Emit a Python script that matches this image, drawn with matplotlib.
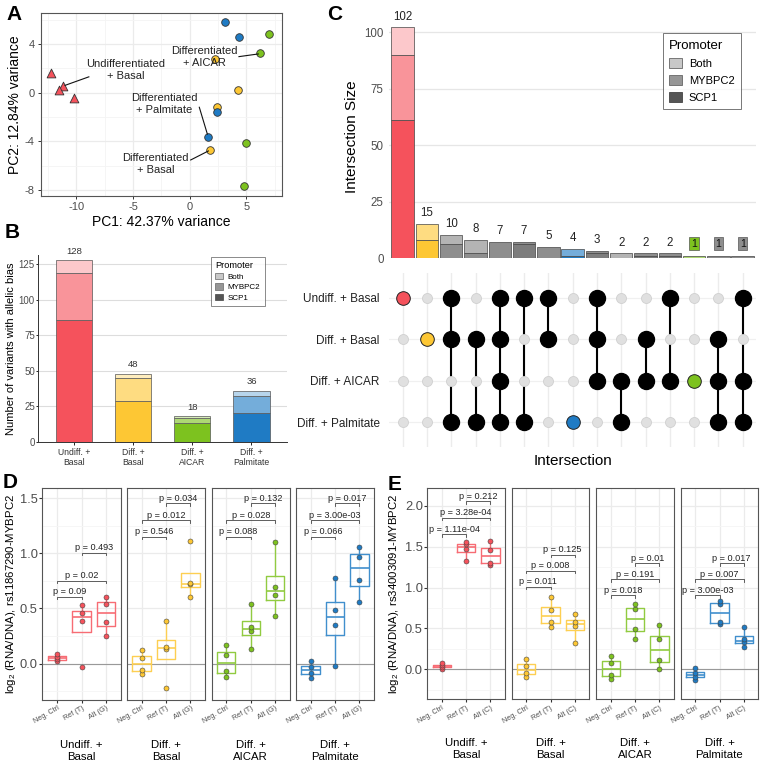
import matplotlib
matplotlib.use('Agg')
import matplotlib.pyplot as plt
import numpy as np
from matplotlib.patches import Patch
from matplotlib.ticker import MultipleLocator

plt.rcParams['font.family'] = ['Liberation Sans', 'DejaVu Sans']
plt.rcParams['mathtext.fontset'] = 'custom'
plt.rcParams['mathtext.rm'] = 'Liberation Sans'
plt.rcParams['mathtext.it'] = 'Liberation Sans:italic'
plt.rcParams['axes.unicode_minus'] = False

# ---------------- DATA ----------------
# Panel A (PCA)
pc1_undiff = [-12.26, -11.2, -11.5, -10.2]
pc2_undiff = [1.59, 0.55, 0.22, -0.41]
pc1_basal = [2.26, 4.29, 2.41, 1.79]
pc2_basal = [2.77, 0.19, -1.15, -4.74]
pc1_aicar = [7.03, 6.2, 4.94, 4.79]
pc2_aicar = [4.85, 3.23, -4.16, -7.67]
pc1_palm = [3.12, 4.32, 2.44, 1.62]
pc2_palm = [5.81, 4.58, -1.59, -3.62]
pca_labels = ['Undifferentiated\n+ Basal', 'Differentiated\n+ AICAR',
              'Differentiated\n+ Palmitate', 'Differentiated\n+ Basal']

# Panel B
conditions = ['Undiff. +\nBasal', 'Diff. +\nBasal', 'Diff. +\nAICAR', 'Diff. +\nPalmitate']
b_scp1 = [86, 29, 13, 20]
b_mybpc2 = [33, 16, 4, 12]
b_both = [9, 3, 1, 4]

# Panel C (UpSet)
sets = ['Undiff. + Basal', 'Diff. + Basal', 'Diff. + AICAR', 'Diff. + Palmitate']
inter_members = [[0], [1], [0, 1, 3], [1, 3], [0, 1, 2, 3], [0, 3], [0, 1], [3],
                 [0, 1, 2], [2, 3], [1, 2], [0, 2], [2], [1, 2, 3], [0, 2, 3]]
c_scp1 = [61, 8, 0, 0, 0, 6, 0, 1, 2, 0, 1, 1, 0, 0, 0]
c_mybpc2 = [29, 7, 6, 2, 7, 1, 5, 3, 1, 0, 1, 1, 1, 1, 1]
c_both = [12, 0, 4, 6, 0, 0, 0, 0, 0, 2, 0, 0, 0, 0, 0]

# Panel D
d_groups = ['Neg. Ctrl', 'Ref (T)', 'Alt (G)']
d_undiff = [[0.02, 0.04, 0.06, 0.09], [-0.03, 0.39, 0.46, 0.53], [0.25, 0.375, 0.54, 0.60]]
d_basal = [[-0.09, -0.06, 0.05, 0.12], [-0.22, 0.13, 0.15, 0.39], [0.605, 0.72, 0.73, 1.11]]
d_aicar = [[-0.12, -0.07, 0.08, 0.17], [0.136, 0.296, 0.336, 0.538], [0.435, 0.62, 0.692, 1.107]]
d_palm = [[-0.127, -0.088, -0.03, 0.021], [-0.018, 0.348, 0.49, 0.774], [0.562, 0.756, 0.97, 1.058]]
d_pvals = [['0.09', '0.02', '0.493'], ['0.546', '0.012', '0.034'],
           ['0.088', '0.028', '0.132'], ['0.066', '3.00e-03', '0.017']]
d_bracket_y = [[0.608, 0.753, 1.007], [1.152, 1.303, 1.455],
               [1.152, 1.303, 1.455], [1.152, 1.303, 1.455]]

# Panel E
e_groups = ['Neg. Ctrl', 'Ref (T)', 'Alt (C)']
e_undiff = [[0.01, 0.03, 0.05, 0.08], [1.33, 1.47, 1.53, 1.56], [1.278, 1.306, 1.465, 1.571]]
e_basal = [[-0.09, -0.05, 0.04, 0.122], [0.514, 0.584, 0.722, 0.886], [0.327, 0.535, 0.584, 0.673]]
e_aicar = [[-0.122, -0.073, 0.082, 0.159], [0.376, 0.494, 0.739, 0.796], [0.0, 0.114, 0.371, 0.543]]
e_palm = [[-0.13, -0.09, -0.04, 0.012], [0.551, 0.576, 0.796, 0.837], [0.278, 0.33, 0.371, 0.522]]
e_pvals = [['1.11e-04', '3.28e-04', '0.212'], ['0.011', '0.008', '0.125'],
           ['0.018', '0.191', '0.01'], ['3.00e-03', '0.007', '0.017']]
e_bracket_y = [[1.653, 1.857, 2.061], [1.012, 1.208, 1.404],
               [0.91, 1.106, 1.302], [0.91, 1.106, 1.302]]

# ---------------- STYLE ----------------
RED = '#F5525C'
YEL = '#FDC734'
GRN = '#7DC21F'
BLU = '#1F7BC4'
cond_colors = [RED, YEL, GRN, BLU]
GRID = '#ebebeb'
TXT = '#4d4d4d'


def mix(c, a):
    r, g, b = matplotlib.colors.to_rgb(c)
    return (1 - a + a * r, 1 - a + a * g, 1 - a + a * b)


W, H = 763, 767
fig = plt.figure(figsize=(W / 100, H / 100), dpi=100)


def axpx(x0, y0, x1, y1):
    return fig.add_axes([x0 / W, 1 - y1 / H, (x1 - x0) / W, (y1 - y0) / H])


def fx(x):
    return x / W


def fy(y):
    return 1 - y / H


promoter_handles = lambda lw: [Patch(fc='#c8c8c8', ec='#666666', lw=lw, label='Both'),
                               Patch(fc='#969696', ec='#666666', lw=lw, label='MYBPC2'),
                               Patch(fc='#555555', ec='#444444', lw=lw, label='SCP1')]

# ---------------- PANEL A ----------------
axA = axpx(40.7, 13.3, 282, 196)
axA.set_xlim(-13.15, 8.15)
axA.set_ylim(-8.49, 6.52)
axA.xaxis.set_major_locator(MultipleLocator(5))
axA.xaxis.set_minor_locator(MultipleLocator(2.5))
axA.yaxis.set_major_locator(MultipleLocator(4))
axA.yaxis.set_minor_locator(MultipleLocator(2))
axA.grid(True, which='major', color=GRID, lw=0.9)
axA.grid(True, which='minor', color='#f4f4f4', lw=0.6)
axA.set_axisbelow(True)
for s in axA.spines.values():
    s.set_color('#555555'); s.set_linewidth(0.8)
axA.tick_params(which='major', length=2.5, color='#333333', labelsize=8, labelcolor=TXT, width=0.7, pad=2)
axA.tick_params(which='minor', length=0)
axA.set_xlabel('PC1: 42.37% variance', fontsize=10, labelpad=2)
axA.set_ylabel('PC2: 12.84% variance', fontsize=10, labelpad=2)
axA.scatter(pc1_undiff, pc2_undiff, marker='^', s=40, c=RED, edgecolors='#333333', linewidths=0.6, zorder=3)
axA.scatter(pc1_basal, pc2_basal, marker='o', s=30, c=YEL, edgecolors='#333333', linewidths=0.6, zorder=3)
axA.scatter(pc1_aicar, pc2_aicar, marker='o', s=30, c=GRN, edgecolors='#333333', linewidths=0.6, zorder=3)
axA.scatter(pc1_palm, pc2_palm, marker='o', s=30, c=BLU, edgecolors='#333333', linewidths=0.6, zorder=3)
label_pos = [(-5.68, 1.84), (1.26, 2.9), (-2.26, -0.96), (-3.03, -5.84)]
seg_pos = [((-8.9, 1.3), (-11.0, 0.6)), ((4.35, 2.96), (6.06, 3.18)),
           ((0.85, -1.2), (1.56, -3.4)), ((0.09, -5.53), (1.65, -4.79))]
for lab, (tx, ty), (p0, p1) in zip(pca_labels, label_pos, seg_pos):
    axA.text(tx, ty, lab, ha='center', va='center', fontsize=8, linespacing=1.25, zorder=4, color='#222222')
    axA.plot([p0[0], p1[0]], [p0[1], p1[1]], color='#111111', lw=0.8, zorder=4)

# ---------------- PANEL B ----------------
axB = axpx(38.3, 255, 287, 441.7)
xb = np.arange(1, 5)
axB.set_xlim(0.4, 4.6)
axB.set_ylim(0, 131.5)
for i in range(4):
    c = cond_colors[i]
    axB.bar(xb[i], b_scp1[i], width=0.61, color=c, edgecolor='#555555', lw=0.5, zorder=3)
    axB.bar(xb[i], b_mybpc2[i], bottom=b_scp1[i], width=0.61, color=mix(c, 0.62), edgecolor='#555555', lw=0.5, zorder=3)
    axB.bar(xb[i], b_both[i], bottom=b_scp1[i] + b_mybpc2[i], width=0.61, color=mix(c, 0.32), edgecolor='#555555', lw=0.5, zorder=3)
    tot = b_scp1[i] + b_mybpc2[i] + b_both[i]
    axB.text(xb[i], tot + 3, str(tot), ha='center', va='bottom', fontsize=6.8, color='#333333')
axB.set_yticks([0, 25, 50, 75, 100, 125])
axB.yaxis.grid(True, color='#dddddd', lw=0.8)
axB.set_axisbelow(True)
for s in ['top', 'right']:
    axB.spines[s].set_visible(False)
for s in ['left', 'bottom']:
    axB.spines[s].set_color('#333333'); axB.spines[s].set_linewidth(0.7)
axB.set_xticks(xb)
axB.set_xticklabels(conditions, fontsize=6.2, color='#333333', linespacing=1.1)
axB.tick_params(axis='y', labelsize=7, labelcolor=TXT, length=1.5, width=0.6, pad=1)
axB.tick_params(axis='x', length=2.5, width=0.6, pad=2)
axB.set_ylabel('Number of variants with allelic bias', fontsize=8, labelpad=2)
axB.yaxis.set_label_coords(fx(8) - fx(38.3), 0.5, transform=None) if False else None
legB = fig.legend(handles=promoter_handles(0.5), title='Promoter', loc='upper left',
                  bbox_to_anchor=(fx(211), fy(256.7)), bbox_transform=fig.transFigure,
                  fontsize=5.8, title_fontsize=6.7, frameon=True, fancybox=False, edgecolor='#555555',
                  handlelength=0.9, handleheight=0.9, handletextpad=0.6, borderpad=0.55, labelspacing=0.3,
                  borderaxespad=0)
legB.get_frame().set_linewidth(0.6)
legB._legend_box.align = 'left'

# ---------------- PANEL C ----------------
n_int = len(inter_members)
xc = np.arange(1, n_int + 1)
axC = axpx(389.3, 15, 756, 258)
axC.set_xlim(0.45, 15.55)
axC.set_ylim(0, (258 - 15) / 2.26)
gray_cols = ['#7d7d7d', '#8e8e8e', '#b4b4b4']
for i in range(n_int):
    mem = inter_members[i]
    if len(mem) == 1:
        base = cond_colors[mem[0]]
        cols = [base, mix(base, 0.62), mix(base, 0.32)]
    else:
        cols = gray_cols
    b0 = 0
    for val, col in zip([c_scp1[i], c_mybpc2[i], c_both[i]], cols):
        if val > 0:
            axC.bar(xc[i], val, bottom=b0, width=0.92, color=col, edgecolor='#444444', lw=0.5, zorder=3)
            b0 += val
    tot = c_scp1[i] + c_mybpc2[i] + c_both[i]
    if tot == 1:
        fc = cond_colors[mem[0]] if len(mem) == 1 else '#8e8e8e'
        axC.text(xc[i], tot + 3.2, str(tot), ha='center', va='bottom', fontsize=7.5, color='#111111',
                 bbox=dict(boxstyle='square,pad=0.18', fc=fc, ec='#555555', lw=0.5))
    else:
        axC.text(xc[i], tot + 2.2, str(tot), ha='center', va='bottom', fontsize=8.3, color='#222222')
axC.set_yticks([0, 25, 50, 75, 100])
axC.yaxis.grid(True, color='#e6e6e6', lw=0.9)
axC.set_axisbelow(True)
for s in axC.spines.values():
    s.set_visible(False)
axC.set_xticks([])
axC.tick_params(axis='y', length=0, labelsize=8.3, labelcolor=TXT, pad=4)
axC.set_ylabel('Intersection Size', fontsize=11, labelpad=4)
legC = fig.legend(handles=promoter_handles(0.6), title='Promoter', loc='upper left',
                  bbox_to_anchor=(fx(662.7), fy(33.3)), bbox_transform=fig.transFigure,
                  fontsize=8, title_fontsize=9.5, frameon=True, fancybox=False, edgecolor='#555555',
                  handlelength=1.15, handleheight=1.0, handletextpad=0.6, borderpad=0.6, labelspacing=0.55,
                  borderaxespad=0)
legC.get_frame().set_linewidth(0.7)
legC._legend_box.align = 'left'

# matrix
axM = axpx(389.3, 273, 756, 447)
axM.set_xlim(0.45, 15.55)
axM.set_ylim(3.6, -0.6)
for i in range(n_int):
    axM.axvline(xc[i], color='#ececec', lw=1.0, zorder=0)
for r in range(4):
    axM.axhline(r, color='#f0f0f0', lw=0.9, zorder=0)
for i in range(n_int):
    mem = inter_members[i]
    for r in range(4):
        if r not in mem:
            axM.plot(xc[i], r, 'o', ms=7.2, mfc='#e0e0e0', mec='#d0d0d0', mew=0.6, zorder=2)
    if len(mem) == 1:
        axM.plot(xc[i], mem[0], 'o', ms=9.8, mfc=cond_colors[mem[0]], mec='#222222', mew=0.7, zorder=3)
    else:
        axM.plot([xc[i], xc[i]], [min(mem), max(mem)], color='black', lw=1.5, zorder=1)
        axM.plot([xc[i]] * len(mem), mem, 'o', ms=11.5, color='black', zorder=3)
for s in axM.spines.values():
    s.set_visible(False)
axM.set_xticks([])
axM.set_yticks(range(4))
axM.set_yticklabels(sets, fontsize=8.5, color='#222222')
axM.tick_params(axis='y', length=0, pad=7)
fig.text(fx(573), fy(461), 'Intersection', ha='center', va='center', fontsize=11)


# ---------------- PANELS D & E ----------------
def facet(ax, data, color, ylim, yticks, first, bys, pvals, xlabels, tip):
    bc = mix(color, 0.85)
    ax.boxplot(data, positions=[1, 2, 3], widths=0.75, showfliers=False, manage_ticks=False,
               boxprops=dict(color=bc, lw=1.0), medianprops=dict(color=bc, lw=1.2),
               whiskerprops=dict(color=bc, lw=1.0), capprops=dict(lw=0), zorder=2)
    for k, vals in enumerate(data):
        ax.plot([k + 1] * len(vals), vals, 'o', ms=3.6, mfc=color, mec='#444444', mew=0.4, zorder=3)
    ax.set_xlim(0.4, 3.6)
    ax.set_ylim(*ylim)
    ax.set_yticks(yticks)
    ax.yaxis.set_minor_locator(MultipleLocator(0.25))
    ax.set_xticks([1, 2, 3])
    ax.grid(True, which='major', color=GRID, lw=0.9)
    ax.grid(True, which='minor', axis='y', color='#f5f5f5', lw=0.6)
    ax.set_axisbelow(True)
    ax.axhline(0, color='#999999', lw=0.8, zorder=1)
    pairs = [(1, 2), (1, 3), (2, 3)]
    for (a, b), yb, pv in zip(pairs, bys, pvals):
        ax.plot([a, a, b, b], [yb - tip, yb, yb, yb - tip], color='#444444', lw=0.6, zorder=4)
        ax.text((a + b) / 2, yb + tip * 0.15, 'p = ' + pv, ha='center', va='bottom', fontsize=6.6,
                color='#222222', zorder=5)
    for s in ax.spines.values():
        s.set_color('#555555'); s.set_linewidth(0.8)
    ax.tick_params(which='minor', length=0)
    ax.tick_params(axis='y', which='major', length=2 if first else 0, color='#333333',
                   labelsize=9.3, labelcolor=TXT, labelleft=first, pad=1.2)
    ax.tick_params(axis='x', length=2.5, color='#333333', pad=1)
    ax.set_xticklabels(xlabels, rotation=30, ha='right', rotation_mode='anchor', fontsize=5.2, color=TXT)


d_data = [d_undiff, d_basal, d_aicar, d_palm]
e_data = [e_undiff, e_basal, e_aicar, e_palm]
facet_label = ['Undiff. +\nBasal', 'Diff. +\nBasal', 'Diff. +\nAICAR', 'Diff. +\nPalmitate']
d_x = [(42.3, 121), (127, 205), (211.7, 289.7), (296, 374)]
e_x = [(427.3, 505), (511.7, 589.3), (596.3, 674), (680.7, 758.3)]
for k in range(4):
    ax = axpx(d_x[k][0], 488.3, d_x[k][1], 700)
    facet(ax, d_data[k], cond_colors[k], (-0.33, 1.59), [0.0, 0.5, 1.0, 1.5], k == 0,
          d_bracket_y[k], d_pvals[k], d_groups, 0.025)
    fig.text(fx((d_x[k][0] + d_x[k][1]) / 2), fy(751), facet_label[k], ha='center', va='center',
             fontsize=8.2, linespacing=1.15)
    ax = axpx(e_x[k][0], 487.7, e_x[k][1], 699.3)
    facet(ax, e_data[k], cond_colors[k], (-0.367, 2.224), [0.0, 0.5, 1.0, 1.5, 2.0], k == 0,
          e_bracket_y[k], e_pvals[k], e_groups, 0.033)
    fig.text(fx((e_x[k][0] + e_x[k][1]) / 2), fy(749), facet_label[k], ha='center', va='center',
             fontsize=8.2, linespacing=1.15)

fig.text(fx(11), fy(594), r'log$_2$ (RNA/DNA), rs11867290-MYBPC2', rotation=90, ha='center', va='center', fontsize=8.2)
fig.text(fx(394), fy(594), r'log$_2$ (RNA/DNA), rs34003091-MYBPC2', rotation=90, ha='center', va='center', fontsize=8.2)

# Panel letters
for lab, x, y in [('A', 14, 14), ('B', 12, 232), ('C', 335, 15), ('D', 10, 482), ('E', 395, 484)]:
    fig.text(fx(x), fy(y), lab, fontsize=15, fontweight='bold', ha='center', va='center')

fig.savefig('out.png', dpi=100)
